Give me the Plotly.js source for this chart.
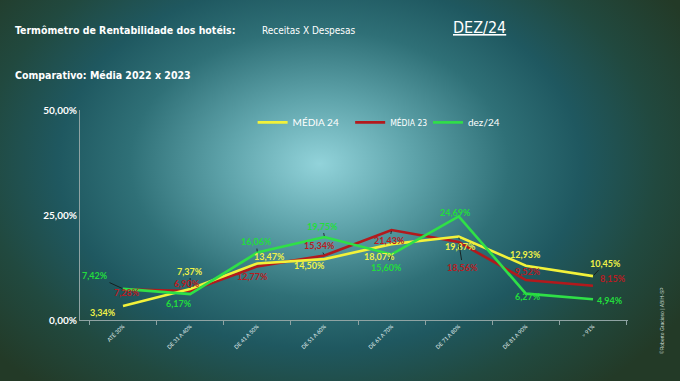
<!DOCTYPE html>
<html><head><meta charset="utf-8">
<script src="https://cdn.plot.ly/plotly-3.0.1.min.js"></script>
<style>
html,body{margin:0;padding:0;}
#chart{width:680px;height:381px;
background: radial-gradient(ellipse 62% 78% at 47% 43%, #92d3da 0%, #5fa4ab 22%, #2f7077 45%, #1f5860 62%, #21493f 80%, #233a27 100%);}
</style></head>
<body><div id="chart"></div>
<script>
const categories = ["ATÉ 30%", "DE 31 A 40%", "DE 41 A 50%", "DE 51 A 60%", "DE 61 A 70%", "DE 71 A 80%", "DE 81 A 90%", "> 91%"];
const media24 = [3.34, 7.37, 13.47, 14.50, 18.07, 19.87, 12.93, 10.45];
const media23 = [7.28, 6.90, 12.77, 15.34, 21.43, 18.56, 9.52, 8.15];
const dez24   = [7.42, 6.17, 16.06, 19.75, 15.60, 24.69, 6.27, 4.94];
const seriesNames = ["MÉDIA 24", "MÉDIA 23", "dez/24"];
const yTicks = [0, 25, 50];

const colors = ["#f2f23a", "#b3191c", "#2fe047"];
const labelColors = ["#f0f247", "#b81c22", "#22dd3c"];

// label offsets [dx, dy, leader]
const offs = [
  [[-20,7,0],[0,-18,1],[12,-7,0],[-15,6,0],[-12,12,0],[2,10,1],[0,-11,0],[12,-13,1]],
  [[4,3,0],[-3,-8,0],[-5,10,0],[-5,-10,1],[-2,11,1],[4,25,1],[2,-9,0],[20,-7,0]],
  [[-28,-13,1],[-11,9,0],[-1,-11,1],[-2,-11,1],[-5,13,1],[-3,-4,0],[2,3,0],[17,1,0]]
];
const series = [media24, media23, dez24];
const fmt = v => v.toFixed(2).replace('.', ',') + '%';

const traces = series.map((s, i) => ({
  type: 'scatter', mode: 'lines', x: categories, y: s, name: seriesNames[i],
  line: {color: colors[i], width: 2.6},
  legend: i === 0 ? 'legend' : (i === 1 ? 'legend2' : 'legend3'),
  hoverinfo: 'skip'
}));
const ordered = [traces[1], traces[0], traces[2]];

const annotations = [];
series.forEach((s, i) => {
  s.forEach((v, j) => {
    const [dx, dy, lead] = offs[i][j];
    const a = {x: categories[j], y: v, xref: 'x', yref: 'y', text: fmt(v),
      font: {family: 'Lato, "Open Sans", sans-serif', size: 9, color: labelColors[i], weight: 700}};
    if (lead) {
      Object.assign(a, {showarrow: true, ax: dx, ay: dy, arrowhead: 0, arrowwidth: 0.8, arrowcolor: '#111', standoff: 1, startstandoff: 0});
    } else {
      Object.assign(a, {showarrow: false, xshift: dx, yshift: -dy});
    }
    annotations.push(a);
  });
});

const titleFont = {family: '"DejaVu Sans Condensed", "Liberation Sans Narrow", "Roboto Condensed", sans-serif', color: '#ffffff', stretch: 'condensed'};
annotations.push(
  {xref: 'paper', yref: 'paper', x: -0.122, y: 1.38, xanchor: 'left', yanchor: 'middle', showarrow: false,
   text: '<b>Termômetro de Rentabilidade dos hotéis:</b>', font: Object.assign({size: 10.5}, titleFont)},
  {xref: 'paper', yref: 'paper', x: 0.328, y: 1.38, xanchor: 'left', yanchor: 'middle', showarrow: false,
   text: 'Receitas X Despesas', font: Object.assign({size: 10}, titleFont)},
  {xref: 'paper', yref: 'paper', x: 0.677, y: 1.395, xanchor: 'left', yanchor: 'middle', showarrow: false,
   text: '<u>DEZ/24</u>', font: Object.assign({size: 16}, titleFont)},
  {xref: 'paper', yref: 'paper', x: -0.122, y: 1.167, xanchor: 'left', yanchor: 'middle', showarrow: false,
   text: '<b>Comparativo: Média 2022 x 2023</b>', font: Object.assign({size: 10.5}, titleFont)},
  {xref: 'paper', yref: 'paper', x: 1.062, y: 0.0, xanchor: 'center', yanchor: 'middle', showarrow: false, textangle: -90,
   text: '©Roberto Gracioso | ABIH-SP', font: {family: 'sans-serif', size: 5, color: '#c8d8d0'}}
);

const legFont = {family: 'Lato, "Open Sans", sans-serif', size: 10, color: '#ffffff'};
const layout = {
  width: 680, height: 381,
  margin: {l: 80, r: 52, t: 110, b: 61},
  paper_bgcolor: 'rgba(0,0,0,0)', plot_bgcolor: 'rgba(0,0,0,0)',
  separators: ',.',
  showlegend: true,
  legend:  {x: 0.315, y: 1.01, xanchor: 'left', yanchor: 'top', bgcolor: 'rgba(0,0,0,0)', font: legFont, itemwidth: 30},
  legend2: {x: 0.493, y: 1.01, xanchor: 'left', yanchor: 'top', bgcolor: 'rgba(0,0,0,0)', font: Object.assign({}, legFont, {size: 8.5, family: '"DejaVu Sans Condensed", sans-serif'}), itemwidth: 30},
  legend3: {x: 0.635, y: 1.01, xanchor: 'left', yanchor: 'top', bgcolor: 'rgba(0,0,0,0)', font: legFont, itemwidth: 30},
  xaxis: {type: 'category', showgrid: false, zeroline: false, showline: true, linecolor: '#8fa3a3', linewidth: 1,
          ticks: 'outside', tickson: 'boundaries', ticklen: 4, tickcolor: '#8fa3a3',
          tickangle: -45, tickfont: {family: 'Lato, sans-serif', size: 5.5, color: '#e0f0f0'}, fixedrange: true},
  yaxis: {range: [0, 50], tickvals: yTicks, ticktext: yTicks.map(fmt), showgrid: false, zeroline: false,
          showline: true, linecolor: '#8fa3a3', linewidth: 1, ticks: '',
          tickfont: {family: 'Lato, sans-serif', size: 10, color: '#ffffff', weight: 700}, fixedrange: true},
  annotations: annotations
};
Plotly.newPlot('chart', ordered, layout, {displayModeBar: false, staticPlot: true});
</script></body></html>
